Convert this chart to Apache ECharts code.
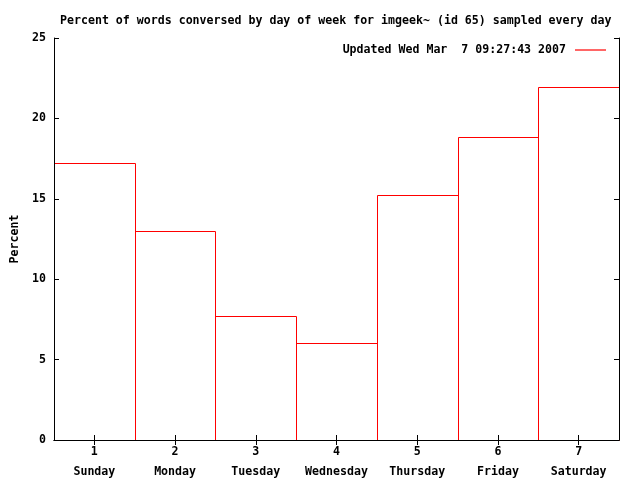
<!DOCTYPE html>
<html><head><meta charset="utf-8">
<script src="https://cdn.jsdelivr.net/npm/echarts@6/dist/echarts.min.js"></script>
<style>html,body{margin:0;padding:0;background:#fff}#c{width:640px;height:480px}</style>
</head><body><div id="c"></div>
<script>
const days = [1, 2, 3, 4, 5, 6, 7];
const dayNames = ['Sunday', 'Monday', 'Tuesday', 'Wednesday', 'Thursday', 'Friday', 'Saturday'];
const percents = [17.23, 13.0, 7.71, 6.03, 15.24, 18.84, 21.95];
const yTicks = [0, 5, 10, 15, 20, 25];
const titleText = 'Percent of words conversed by day of week for imgeek~ (id 65) sampled every day';
const legendText = 'Updated Wed Mar  7 09:27:43 2007';

const FONT = 'DejaVu Sans Mono';
const FS = 11.6;
const chart = echarts.init(document.getElementById('c'), null, {renderer: 'canvas'});
const axCommon = {
  axisLine: {show: true, lineStyle: {color: '#000', width: 1}},
  splitLine: {show: false},
  z: 10
};
chart.setOption({
  animation: false,
  backgroundColor: '#fff',
  title: {
    text: titleText, left: 55, top: 10,
    textStyle: {fontFamily: FONT, fontSize: FS, fontWeight: 'bold', color: '#000'}
  },
  legend: {
    data: [{name: legendText, icon: 'rect'}],
    right: 29, top: 39, align: 'right', itemWidth: 31, itemHeight: 1.2, itemGap: 9,
    textStyle: {fontFamily: FONT, fontSize: FS, fontWeight: 'bold', color: '#000', padding: [0, 4, 0, 0]}
  },
  grid: {left: 54, right: 21, top: 38, bottom: 40, outerBoundsMode: 'none', containLabel: false},
  xAxis: [{
    ...axCommon, type: 'value', min: 0.5, max: 7.5, position: 'bottom',
    axisTick: {show: true, inside: true, length: 5, lineStyle: {color: '#000'}, customValues: days},
    axisLabel: {
      margin: 2, customValues: days,
      formatter: v => '{n|' + v + '}\n{d|' + dayNames[v - 1] + '}',
      rich: {
        n: {fontFamily: FONT, fontSize: FS, fontWeight: 'bold', color: '#000', lineHeight: 20},
        d: {fontFamily: FONT, fontSize: FS, fontWeight: 'bold', color: '#000', lineHeight: 20}
      }
    }
  }, {
    ...axCommon, type: 'value', min: 0.5, max: 7.5, position: 'top',
    axisTick: {show: true, inside: true, length: 5, lineStyle: {color: '#000'}, customValues: days},
    axisLabel: {show: false}
  }],
  yAxis: [{
    ...axCommon, type: 'value', min: 0, max: 25, interval: 5, position: 'left',
    name: 'Percent', nameLocation: 'middle', nameGap: 33, nameRotate: 90,
    nameTextStyle: {fontFamily: FONT, fontSize: FS, fontWeight: 'bold', color: '#000'},
    axisTick: {show: true, inside: true, length: 5, lineStyle: {color: '#000'}},
    axisLabel: {margin: 8, fontFamily: FONT, fontSize: FS, fontWeight: 'bold', color: '#000',
      formatter: v => yTicks.includes(v) ? String(v) : ''}
  }, {
    ...axCommon, type: 'value', min: 0, max: 25, interval: 5, position: 'right',
    axisTick: {show: true, inside: true, length: 5, lineStyle: {color: '#000'}},
    axisLabel: {show: false}
  }],
  series: [{
    name: legendText,
    type: 'custom',
    color: '#ff0000',
    z: 2,
    data: days.map((d, i) => [d, percents[i]]),
    renderItem: (params, api) => {
      const x = api.value(0), v = api.value(1);
      const pts = [[x - 0.5, 0], [x - 0.5, v], [x + 0.5, v], [x + 0.5, 0]].map(p => {
        const c = api.coord(p);
        return [Math.round(c[0]) + 0.5, Math.round(c[1]) + 0.5];
      });
      return {type: 'polyline', shape: {points: pts}, style: {stroke: '#ff0000', lineWidth: 1, fill: null}};
    }
  }]
});
</script></body></html>
